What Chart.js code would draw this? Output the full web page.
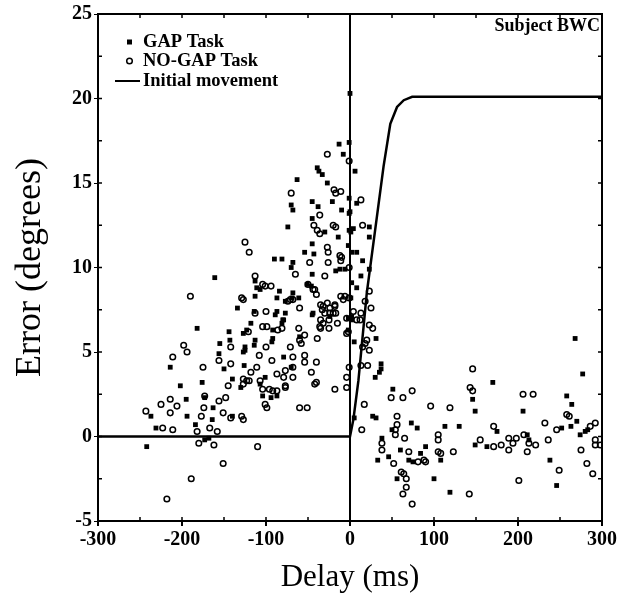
<!DOCTYPE html>
<html>
<head>
<meta charset="utf-8">
<script src="https://cdn.jsdelivr.net/npm/chart.js@4.4.0/dist/chart.umd.min.js"></script>
<style>
  html, body { margin: 0; padding: 0; background: #fff; }
  #wrap { width: 628px; height: 601px; }
</style>
</head>
<body>
<div id="wrap"><canvas id="errChart"></canvas></div>
<script>
// GAP task trials (filled squares)
const gapDelay = [-13, -1, -8, -39, -37, -33, -63, -27, -1, -45, -38, -70, -68, -21, -10, -1, -45, -74, -30, -14,
  -1, -45, -54, -43, -90, -81, -68, -70, -17, -12, -6, -45, -161, -113, -51, -46, -111, -107, -84, -113,
  -68, -69, -77, -87, -61, -134, -87, -89, -45, -77, -80, -182, -144, -214, -155, -156, -143, -150, -176, -202,
  -140, -130, -126, -113, -114, -125, -101, -107, -104, -94, -87, -79, -60, -173, -163, -194, -140, -164, -195, -237,
  -231, -184, -173, -168, -242, -44, -24, -2, 1, -2, 5, -118, -127, -92, -93, -79, -92, -81, 6, 8,
  0, 0, 23, 4, 1, 23, -2, 2, 8, 15, 23, 13, 2, 8, 31, 37, 37, 35, 30, 170,
  277, 51, 146, 149, 258, 206, 264, 252, 263, 270, 274, 280, 283, 238, 246, 211, 213, 163, 175, 149,
  130, 113, 108, 100, 119, 27, 31, 5, 50, 73, 80, 38, 60, 70, 75, 90, 84, 33, 46, 56,
  268, -114, -123, -125, -127, -70, 2, 2];
const gapError = [17.3, 17.4, 16.7, 15.9, 15.7, 15.5, 15.2, 15.0, 14.1, 13.9, 13.6, 13.7, 13.4, 13.9, 13.4, 13.2, 12.9, 12.4, 12.1, 11.8,
  12.2, 11.4, 10.9, 10.8, 10.5, 10.5, 10.3, 10.0, 9.8, 9.9, 9.9, 9.6, 9.4, 9.2, 9.0, 8.9, 8.8, 8.7, 8.6, 8.3,
  8.5, 8.2, 8.0, 8.2, 8.2, 7.6, 7.4, 7.2, 7.2, 7.3, 6.9, 6.4, 6.2, 4.1, 5.5, 4.9, 5.7, 4.0, 3.2, 3.0,
  3.4, 2.9, 4.2, 5.7, 5.4, 5.3, 3.5, 3.1, 2.4, 2.3, 2.4, 4.7, 5.9, 2.3, 1.7, 1.2, 1.2, 1.0, 2.2, 1.2,
  0.5, 0.7, -0.2, -0.1, -0.6, 7.3, 7.1, 7.0, 8.2, 6.3, 5.6, 6.7, 6.1, 5.8, 5.6, 6.9, 6.3, 6.7, 15.7, 13.8,
  20.3, 13.3, 12.4, 12.3, 12.1, 11.8, 11.3, 10.9, 10.9, 10.4, 9.9, 9.5, 9.1, 8.8, 5.8, 4.3, 4.0, 3.8, 3.5, 3.2,
  3.7, 2.8, 2.2, 1.5, 2.4, 1.5, 1.9, 0.5, 0.6, 0.9, 0.1, 0.3, 0.4, -1.4, -2.9, 0.1, -0.2, -0.6, 0.3, -0.5,
  0.6, 0.6, -1.4, -2.5, -3.3, 1.2, 1.1, 1.1, 0.4, 0.8, 0.5, -0.1, -0.8, -1.4, -1.5, -0.6, -1.0, -1.4, -1.2, -2.5,
  5.8, 7.4, 6.3, 5.1, 5.0, 4.1, 7.1, 6.9];

// NO-GAP task trials (open circles)
const noGapDelay = [-27, -1, -70, -19, -17, -11, -36, -43, -39, -36, -20, -17, -125, -120, -27, -26, -48, -12, -11, -65,
  -26, -1, -30, -113, -42, -40, -101, -94, -190, -129, -71, -11, -8, -1, -60, -100, -35, -27, -18, -30,
  -24, -17, -113, -35, -32, -198, -194, -211, -175, -156, -142, -142, -145, -127, -120, -118, -111, -108, -100, -93,
  -87, -104, -96, -92, -87, -77, -77, -68, -68, -71, -68, -54, -54, -60, -58, -61, -54, -39, -46, -40,
  -40, -18, -60, -51, -101, -99, -4, -1, -173, -156, -148, -151, -142, -129, -127, -177, -214, -225, -206, -214,
  -243, -223, -211, -182, -167, -158, -180, -162, -110, -151, -189, -218, -104, -50, -44, -68, -32, -24, -20, -18,
  -25, -15, -25, -35, 4, -2, -104, -99, -121, -86, -81, 13, 15, -10, 23, -6, 18, 25, 13, -4,
  8, 12, 27, 23, -4, 20, 18, 15, 23, 21, 13, 146, 17, 49, 63, 74, 96, 119, 143, 146,
  206, 218, 258, 261, 232, 246, 286, 292, 292, 298, 292, 275, 282, 289, 249, 201, 236, 189, 198, 194,
  189, 180, 171, 207, 213, 221, 211, 171, 155, 105, 105, 123, 105, 108, 142, 14, 56, 56, 54, 54,
  65, 38, 38, 70, 81, 88, 90, 52, 61, 64, 67, 67, 63, 74, -33, -79, -42, -107, -77, -4,
  -127, -123, -174, -127, -36, -74];
const noGapError = [16.7, 16.3, 14.4, 14.6, 14.4, 14.5, 13.1, 12.5, 12.2, 12.0, 12.5, 12.4, 11.5, 10.9, 11.2, 10.9, 10.3, 10.7, 10.4, 9.6,
  10.3, 10.0, 9.5, 9.5, 8.7, 8.4, 8.9, 8.9, 8.3, 8.2, 8.1, 8.3, 8.1, 8.2, 7.6, 7.4, 7.8, 7.9, 7.7, 7.3,
  7.3, 7.3, 7.3, 6.9, 6.7, 5.4, 5.0, 4.7, 4.1, 4.5, 5.3, 4.3, 3.0, 3.4, 3.3, 3.8, 4.1, 4.8, 5.3, 4.5,
  3.7, 2.8, 2.8, 2.7, 2.7, 3.0, 3.9, 4.1, 3.5, 5.3, 4.7, 4.8, 4.4, 5.7, 5.5, 6.4, 6.0, 5.8, 3.8, 4.4,
  3.2, 2.8, 1.7, 1.7, 1.9, 1.7, 3.5, 4.1, 2.4, 2.1, 2.3, 1.4, 1.1, 1.2, 1.0, 1.2, 2.2, 1.9, 1.8, 1.4,
  1.5, 0.5, 0.4, 0.3, 0.5, 0.3, -0.4, -0.5, -0.6, -1.6, -2.5, -3.7, 9.0, 9.0, 8.7, 8.1, 7.7, 7.6, 7.3, 7.8,
  6.9, 6.7, 6.4, 6.4, 7.4, 6.2, 6.5, 6.5, 6.2, 6.3, 6.4, 14.0, 12.5, 10.6, 8.6, 8.3, 8.0, 7.6, 7.3, 7.0,
  6.9, 6.9, 6.4, 6.6, 6.1, 5.7, 5.5, 5.3, 5.1, 4.2, 4.2, 4.0, 1.9, 2.3, 2.3, 2.7, 1.8, 1.7, 2.9, 2.7,
  2.5, 2.5, 1.3, 1.2, 0.8, 0.4, 0.6, 0.8, -0.2, -0.5, -0.5, -0.8, -1.6, -2.2, -2.0, -2.6, -0.2, -0.1, -0.1, -0.4,
  -0.8, -0.5, -0.6, 0.1, -0.4, -0.5, -0.9, 0.6, -0.2, 0.1, -0.2, -0.9, -0.9, -1.0, -3.4, 0.4, 1.2, 0.7, 0.4, 0.1,
  -0.1, -0.4, -0.8, -0.9, -1.5, -1.4, -1.5, -1.6, -2.1, -2.2, -2.5, -3.0, -3.4, -4.0, 7.5, 3.5, 3.1, 3.3, 2.9, 2.9,
  3.1, 3.3, 1.7, 8.1, 6.5, 8.0];

// initial movement curve
const moveDelay = [-300, 0, 4, 10, 20, 32, 40, 48, 56, 64, 74, 300];
const moveError = [0, 0, 1, 3.3, 8.5, 13, 16, 18.5, 19.5, 19.9, 20.1, 20.1];

const xLabels = [-300, -200, -100, 0, 100, 200, 300];
const legendNames = ['GAP Task', 'NO-GAP Task', 'Initial movement'];
const subjectName = 'Subject BWC';

const serif = "'Liberation Serif', 'Times New Roman', serif";

function toPoints(xs, ys) {
  return xs.map((x, i) => ({ x: x, y: ys[i] }));
}

// frame with inward minor ticks, legend and subject label
const decor = {
  id: 'decor',
  afterDraw(chart) {
    const ctx = chart.ctx;
    const a = chart.chartArea;
    const sx = chart.scales.x, sy = chart.scales.y;
    ctx.save();
    ctx.strokeStyle = '#000';
    ctx.lineWidth = 2;
    ctx.strokeRect(a.left, a.top, a.right - a.left, a.bottom - a.top);

    ctx.lineWidth = 1.5;
    ctx.beginPath();
    for (let v = -300; v <= 300; v += 50) {
      const px = sx.getPixelForValue(v);
      ctx.moveTo(px, a.bottom); ctx.lineTo(px, a.bottom - 4);
      ctx.moveTo(px, a.top); ctx.lineTo(px, a.top + 4);
    }
    for (let v = -5; v <= 25; v += 2.5) {
      const py = sy.getPixelForValue(v);
      ctx.moveTo(a.left, py); ctx.lineTo(a.left + 4, py);
      ctx.moveTo(a.right, py); ctx.lineTo(a.right - 4, py);
    }
    ctx.stroke();

    ctx.fillStyle = '#000';
    ctx.font = 'bold 18px ' + serif;
    ctx.textBaseline = 'middle';
    ctx.textAlign = 'right';
    ctx.fillText(subjectName, a.right - 2, a.top + 12);

    ctx.font = 'bold 18.5px ' + serif;
    ctx.textAlign = 'left';
    const tx = a.left + 45;
    const rows = [a.top + 28, a.top + 47, a.top + 67];
    // square
    ctx.fillRect(a.left + 29, rows[0] - 2.5, 5, 5);
    // circle
    ctx.lineWidth = 1.5;
    ctx.beginPath();
    ctx.arc(a.left + 31.5, rows[1], 2.8, 0, Math.PI * 2);
    ctx.stroke();
    // line
    ctx.lineWidth = 2;
    ctx.beginPath();
    ctx.moveTo(a.left + 17, rows[2]);
    ctx.lineTo(a.left + 42, rows[2]);
    ctx.stroke();
    ctx.fillText(legendNames[0], tx, rows[0]);
    ctx.fillText(legendNames[1], tx, rows[1]);
    ctx.fillText(legendNames[2], tx, rows[2]);
    ctx.restore();
  }
};

document.addEventListener('DOMContentLoaded', function () {
  const ctx = document.getElementById('errChart').getContext('2d');
  new Chart(ctx, {
    type: 'scatter',
    data: {
      datasets: [{
        label: legendNames[2],
        type: 'line',
        data: toPoints(moveDelay, moveError),
        borderColor: '#000',
        borderWidth: 2.5,
        pointRadius: 0,
        fill: false,
        tension: 0
      }, {
        label: legendNames[0],
        data: toPoints(gapDelay, gapError),
        pointStyle: 'rect',
        pointRadius: 3.4,
        backgroundColor: '#000',
        borderWidth: 0
      }, {
        label: legendNames[1],
        data: toPoints(noGapDelay, noGapError),
        pointStyle: 'circle',
        pointRadius: 2.8,
        backgroundColor: 'rgba(0,0,0,0)',
        borderColor: '#000',
        borderWidth: 1.5
      }]
    },
    options: {
      responsive: true,
      maintainAspectRatio: false,
      animation: false,
      layout: { padding: { left: 0, right: 26, top: 14, bottom: 0 } },
      plugins: {
        legend: { display: false },
        tooltip: { enabled: false }
      },
      scales: {
        x: {
          type: 'linear',
          min: -300,
          max: 300,
          afterFit: function (scale) { scale.height = 80; },
          ticks: {
            stepSize: 50,
            autoSkip: false,
            maxRotation: 0,
            minRotation: 0,
            color: '#000',
            padding: 2,
            font: { family: serif, size: 20, weight: 'bold' },
            callback: function (v) { return xLabels.includes(v) ? String(v) : ''; }
          },
          grid: {
            drawOnChartArea: true,
            color: function (c) { return c.tick && c.tick.value === 0 ? '#000' : 'rgba(0,0,0,0)'; },
            lineWidth: 2,
            tickColor: function (c) { return c.tick && xLabels.includes(c.tick.value) ? '#000' : 'rgba(0,0,0,0)'; },
            tickLength: 5
          },
          border: { display: true, color: '#000', width: 2 },
          title: {
            display: true,
            text: 'Delay (ms)',
            color: '#000',
            font: { family: serif, size: 31 },
            padding: { top: 5, bottom: 5 }
          }
        },
        y: {
          min: -5,
          max: 25,
          afterFit: function (scale) { scale.width = 98; },
          ticks: {
            stepSize: 5,
            color: '#000',
            padding: 2,
            font: { family: serif, size: 20, weight: 'bold' }
          },
          grid: {
            drawOnChartArea: false,
            tickColor: '#000',
            tickLength: 4
          },
          border: { display: true, color: '#000', width: 2 },
          title: {
            display: true,
            text: 'Error (degrees)',
            color: '#000',
            font: { family: serif, size: 36 },
            padding: { top: 9, bottom: 9 }
          }
        }
      }
    },
    plugins: [decor]
  });
});
</script>
</body>
</html>
